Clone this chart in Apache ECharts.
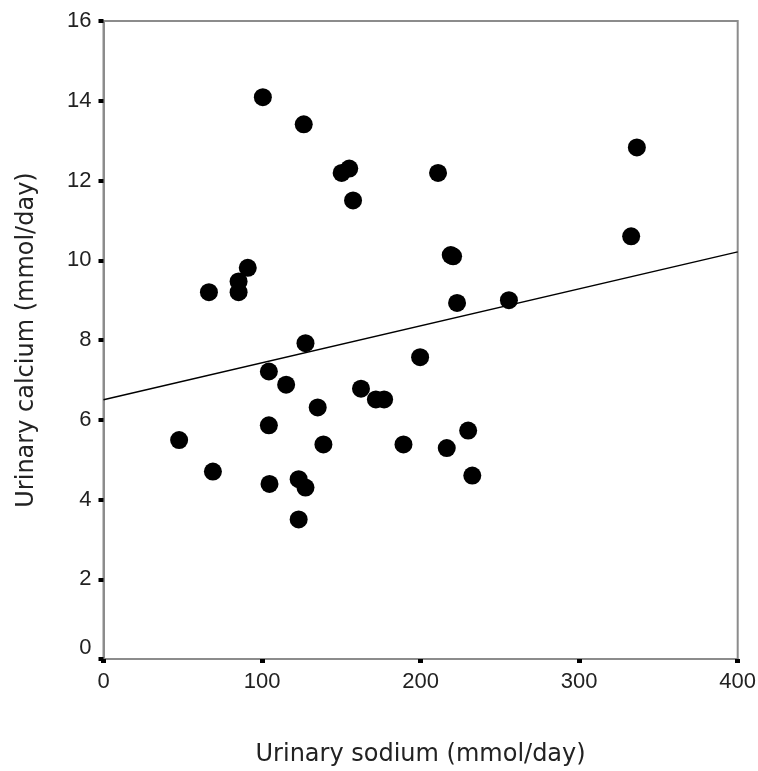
<!DOCTYPE html>
<html>
<head>
<meta charset="utf-8">
<script src="https://cdn.jsdelivr.net/npm/echarts@6/dist/echarts.min.js"></script>
<style>
  html, body { margin: 0; padding: 0; background: #fff; }
  #scatter_chart { width: 758px; height: 771px; }
</style>
</head>
<body>
<div id="scatter_chart"></div>
<script>
// urinary sodium (mmol/day) per subject
var sodium = [
  100.5, 126.3, 150.2, 155, 157.4, 211, 336.4, 332.8, 219, 220.5,
  223, 255.7, 91, 85.2, 85.2, 66.5, 127.4, 199.7, 104.3, 115.2,
  162.4, 171.8, 177, 135.1, 104.3, 47.7, 138.7, 189.2, 69, 104.7,
  123.1, 127.4, 123.1, 216.5, 230, 232.6
];
// urinary calcium (mmol/day), same order
var calcium = [
  14.09, 13.41, 12.19, 12.3, 11.5, 12.19, 12.83, 10.6, 10.13, 10.1,
  8.93, 9.0, 9.81, 9.47, 9.2, 9.2, 7.92, 7.57, 7.21, 6.88,
  6.78, 6.51, 6.51, 6.31, 5.86, 5.49, 5.38, 5.38, 4.7, 4.39,
  4.51, 4.3, 3.5, 5.29, 5.73, 4.6
];
// fitted regression line end points
var fitX = [0, 400];
var fitY = [6.5, 10.21];

var xTicks = [0, 100, 200, 300, 400];
var yTicks = [0, 2, 4, 6, 8, 10, 12, 14, 16];

var chart = echarts.init(document.getElementById("scatter_chart"));

var points = sodium.map(function (s, i) { return [s, calcium[i]]; });
var fit = fitX.map(function (x, i) { return [x, fitY[i]]; });

var option = {
  animation: false,
  grid: {
    left: 103.5,
    right: 20.3,
    top: 21,
    bottom: 112,
    outerBoundsMode: "none",
    show: true,
    borderColor: "#8c8c8c",
    borderWidth: 2,
  },
  xAxis: {
    type: "value",
    min: xTicks[0],
    max: xTicks[xTicks.length - 1],
    interval: 100,
    name: "Urinary sodium (mmol/day)",
    nameLocation: "middle",
    nameGap: 84,
    nameTextStyle: {
      color: "#222",
      fontFamily: "DejaVu Sans",
      fontSize: 24,
    },
    axisLine: { show: true, lineStyle: { color: "#8c8c8c", width: 2 } },
    axisTick: { show: true, length: 4, lineStyle: { color: "#000", width: 5 } },
    axisLabel: {
      color: "#222",
      fontFamily: "Liberation Sans",
      fontSize: 22,
      margin: 12,
    },
    splitLine: { show: false },
  },
  yAxis: {
    type: "value",
    min: yTicks[0],
    max: yTicks[yTicks.length - 1],
    interval: 2,
    name: "Urinary calcium (mmol/day)",
    nameLocation: "middle",
    nameGap: 65,
    nameTextStyle: {
      color: "#222",
      fontFamily: "DejaVu Sans",
      fontSize: 24,
    },
    axisLine: { show: true, lineStyle: { color: "#8c8c8c", width: 2 } },
    axisTick: { show: true, length: 5, lineStyle: { color: "#000", width: 4 } },
    axisLabel: {
      color: "#222",
      fontFamily: "Liberation Sans",
      fontSize: 22,
      margin: 12,
      // the 0 label sits a little above its tick in the original
      formatter: function (v) {
        return v === 0 ? "{z|0}" : String(v);
      },
      rich: {
        z: {
          color: "#222",
          fontFamily: "Liberation Sans",
          fontSize: 22,
          padding: [0, 0, 22, 0],
        },
      },
    },
    splitLine: { show: false },
  },
  series: [
    {
      name: "fit",
      type: "line",
      data: fit,
      symbol: "none",
      lineStyle: { color: "#000", width: 1.5 },
      z: 2,
    },
    {
      name: "subjects",
      type: "scatter",
      data: points,
      symbol: "circle",
      symbolSize: 18,
      itemStyle: { color: "#000", opacity: 1 },
      z: 3,
    },
  ],
};

chart.setOption(option);
</script>
</body>
</html>
